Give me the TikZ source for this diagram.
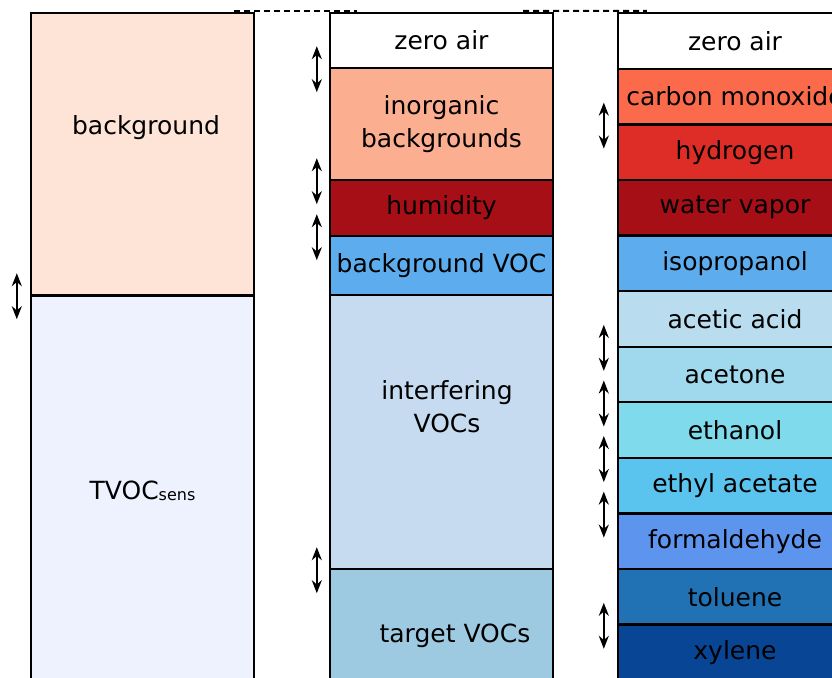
\documentclass[tikz,border=0pt]{standalone}
\usepackage{fontspec}
\setmainfont{DejaVu Sans}
\usepackage{tikz}
\usetikzlibrary{arrows.meta}

% fills, light to dark
\definecolor{bgpeach}{HTML}{FEE3D7}
\definecolor{tvocblue}{HTML}{EEF2FF}
\definecolor{inorgred}{HTML}{FCAE91}
\definecolor{humred}{HTML}{A50F15}
\definecolor{bgvocblue}{HTML}{5DADEE}
\definecolor{interfblue}{HTML}{C6DBEF}
\definecolor{targetblue}{HTML}{9ECAE1}
\definecolor{cored}{HTML}{FB6A4A}
\definecolor{hydred}{HTML}{DE2D26}
\definecolor{aceticblue}{HTML}{B9DCEF}
\definecolor{acetoneblue}{HTML}{A0D9EE}
\definecolor{ethanolblue}{HTML}{7FDAEC}
\definecolor{ethylblue}{HTML}{5BC4EE}
\definecolor{formblue}{HTML}{5D95EE}
\definecolor{tolblue}{HTML}{2171B5}
\definecolor{xylblue}{HTML}{084594}

\begin{document}
\begin{tikzpicture}[x=1pt, y=-1pt,
    lbl/.style={font=\fontsize{25}{33}\selectfont, align=center, inner sep=0pt},
    layer/.style={lbl, draw, line width=2.4pt, rectangle},
    col12/.style={layer, minimum width=223pt},
    col3/.style={layer, minimum width=234pt, minimum height=55.6pt},
    swap/.style={<->, line width=2pt, >={Stealth[length=13pt,width=10pt]}},
    seam/.style={line width=2pt, dash pattern=on 6pt off 4pt}]
    \useasboundingbox (0,0) rectangle (832,677);
    \clip (0,0) rectangle (832,677);

    % left column
    \node[col12, fill=bgpeach, minimum height=282pt] (bg) at (142.5,154) {};
    \node[col12, fill=tvocblue, minimum height=390pt] (tvoc) at (142.5,491) {TVOC{\fontsize{16}{18}\selectfont\raisebox{-1pt}{sens}}};
    \node[lbl] (bglbl) at (146,128) {background};

    % middle column
    \node[col12, fill=white, minimum height=55pt] (zero2) at (441.5,40.5) {zero air};
    \node[col12, fill=inorgred, minimum height=112pt] (inorg) at (441.5,124) {inorganic\\backgrounds};
    \node[col12, fill=humred, minimum height=56pt] (hum) at (441.5,208) {humidity};
    \node[col12, fill=bgvocblue, minimum height=59pt] (bgvoc) at (441.5,265.5) {background VOC};
    \node[col12, fill=interfblue, minimum height=274pt] (interf) at (441.5,432) {};
    \node[col12, fill=targetblue, minimum height=131pt] (target) at (441.5,634.5) {};
    \node[lbl] (interflbl) at (447,407) {interfering\\VOCs};
    \node[lbl] (targetlbl) at (455,636) {target VOCs};

    % right column
    \node[col3, fill=white] (zero3) at (735,41) {zero air};
    \node[col3, fill=cored] (co) at (735,96.6) {carbon monoxide};
    \node[col3, fill=hydred] (hyd) at (735,152.2) {hydrogen};
    \node[col3, fill=humred] (water) at (735,207.7) {water vapor};
    \node[col3, fill=bgvocblue] (iso) at (735,263.3) {isopropanol};
    \node[col3, fill=aceticblue] (acetic) at (735,318.9) {acetic acid};
    \node[col3, fill=acetoneblue] (acetone) at (735,374.5) {acetone};
    \node[col3, fill=ethanolblue] (ethanol) at (735,430) {ethanol};
    \node[col3, fill=ethylblue] (ethyl) at (735,485.6) {ethyl acetate};
    \node[col3, fill=formblue] (form) at (735,541.2) {formaldehyde};
    \node[col3, fill=tolblue] (tol) at (735,596.8) {toluene};
    \node[col3, fill=xylblue] (xyl) at (735,652.3) {xylene};

    % dashed links along the top
    \draw[seam] ([xshift=-21pt,yshift=1pt]bg.north east) -- ([xshift=28pt,yshift=1pt]zero2.north west);
    \draw[seam] ([xshift=-31pt,yshift=1pt]zero2.north east) -- ([xshift=30pt,yshift=1pt]zero3.north west);

    % swap arrows at the borders
    \draw[swap] ([xshift=-13pt,yshift=23pt]bg.south west) -- ([xshift=-13pt,yshift=-23pt]bg.south west);

    \draw[swap] ([xshift=-12pt,yshift=23pt]zero2.south west) -- ([xshift=-12pt,yshift=-23pt]zero2.south west);
    \draw[swap] ([xshift=-12pt,yshift=23pt]inorg.south west) -- ([xshift=-12pt,yshift=-23pt]inorg.south west);
    \draw[swap] ([xshift=-12pt,yshift=23pt]hum.south west) -- ([xshift=-12pt,yshift=-23pt]hum.south west);
    \draw[swap] ([xshift=-12pt,yshift=23pt]interf.south west) -- ([xshift=-12pt,yshift=-23pt]interf.south west);

    \draw[swap] ([xshift=-13pt,yshift=23pt]co.south west) -- ([xshift=-13pt,yshift=-23pt]co.south west);
    \draw[swap] ([xshift=-13pt,yshift=23pt]acetic.south west) -- ([xshift=-13pt,yshift=-23pt]acetic.south west);
    \draw[swap] ([xshift=-13pt,yshift=23pt]acetone.south west) -- ([xshift=-13pt,yshift=-23pt]acetone.south west);
    \draw[swap] ([xshift=-13pt,yshift=23pt]ethanol.south west) -- ([xshift=-13pt,yshift=-23pt]ethanol.south west);
    \draw[swap] ([xshift=-13pt,yshift=23pt]ethyl.south west) -- ([xshift=-13pt,yshift=-23pt]ethyl.south west);
    \draw[swap] ([xshift=-13pt,yshift=23pt]tol.south west) -- ([xshift=-13pt,yshift=-23pt]tol.south west);
\end{tikzpicture}
\end{document}
